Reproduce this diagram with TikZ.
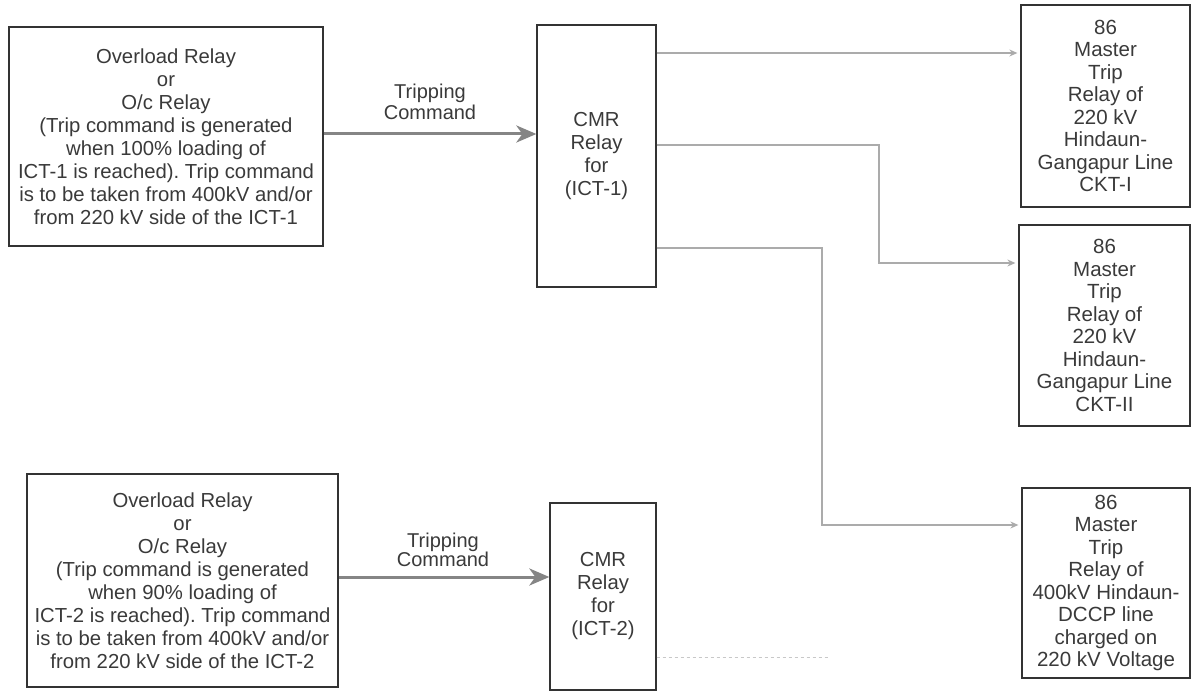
\documentclass[tikz,border=0pt]{standalone}
\usepackage{fontspec}
\setmainfont{Liberation Sans}
\usetikzlibrary{arrows.meta}
\definecolor{ink}{HTML}{333333}
\definecolor{txt}{HTML}{3A3A3A}
\definecolor{tripgray}{HTML}{858585}
\definecolor{faint}{HTML}{ABABAB}
\definecolor{veryfaint}{HTML}{C8C8C8}
\frenchspacing
\tikzset{
  box/.style={draw=ink, line width=1.3pt, rectangle, inner sep=0pt, align=center,
    text=txt, font=\fontsize{20.3}{23}\selectfont},
  rbox/.style={box, font=\fontsize{20.5}{22.5}\selectfont},
  tripline/.style={draw=tripgray, line width=3pt, -{Stealth[length=20pt,width=17pt,inset=6pt]}},
  outline/.style={draw=faint, line width=1.2pt, -{Stealth[length=8pt,width=7pt]}, shorten >=3pt},
  faintline/.style={draw=veryfaint, line width=1pt, dashed},
  lbl/.style={text=txt, align=center, inner sep=0pt}
}
\begin{document}
\begin{tikzpicture}[x=1pt,y=-1pt]
\useasboundingbox (0,0) rectangle (1192,692);
\fill[white] (0,0) rectangle (1192,692);

% left boxes
\node[box, minimum width=314pt, minimum height=219pt] (a1) at (166,136.5)
  {Overload Relay\\or\\O/c Relay\\(Trip command is generated\\when 100\% loading of\\ICT-1 is reached). Trip command\\is to be taken from 400kV and/or\\from 220 kV side of the ICT-1};
\node[box, minimum width=311pt, minimum height=213pt] (a2) at (182.5,580.5)
  {Overload Relay\\or\\O/c Relay\\(Trip command is generated\\when 90\% loading of\\ICT-2 is reached). Trip command\\is to be taken from 400kV and/or\\from 220 kV side of the ICT-2};

% CMR boxes
\node[box, minimum width=119pt, minimum height=262pt] (cmr1) at (596.5,156)
  {CMR\\Relay\\for\\(ICT-1)};
\node[box, minimum width=106pt, minimum height=187pt] (cmr2) at (603,596.5)
  {CMR\\Relay\\for\\(ICT-2)};

% right boxes
\node[rbox, minimum width=169pt, minimum height=202pt] (r1) at (1105.5,106)
  {86\\Master\\Trip\\Relay of\\220 kV\\Hindaun-\\Gangapur Line\\CKT-I};
\node[rbox, minimum width=171pt, minimum height=201pt] (r2) at (1104.5,325.5)
  {86\\Master\\Trip\\Relay of\\220 kV\\Hindaun-\\Gangapur Line\\CKT-II};
\node[rbox, minimum width=168pt, minimum height=190pt] (r3) at (1106,583)
  {86\\Master\\Trip\\Relay of\\400kV Hindaun-\\DCCP line\\charged on\\220 kV Voltage};

% labels
\node[lbl, font=\fontsize{20}{21}\selectfont] (lab1) at (430,101.5) {Tripping\\Command};
\node[lbl, font=\fontsize{20}{18}\selectfont] (lab2) at (443,550) {Tripping\\Command};

% tripping arrows
\coordinate (y1) at (0,134);
\draw[tripline] (a1.east |- y1) -- (cmr1.west |- y1);
\coordinate (y2) at (0,577);
\draw[tripline] (a2.east |- y2) -- (cmr2.west |- y2);

% outputs of CMR 1
\coordinate (k1) at (0,53);
\draw[outline] (cmr1.east |- k1) -- (r1.west |- k1);
\coordinate (b2) at (879,145);
\coordinate (c2) at (879,263);
\draw[outline] (cmr1.east |- b2) -- (b2) -- (c2) -- (r2.west |- c2);
\coordinate (b3) at (822,248);
\coordinate (c3) at (822,525);
\draw[outline] (cmr1.east |- b3) -- (b3) -- (c3) -- (r3.west |- c3);

% faded line from CMR 2
\coordinate (f1) at (830,657);
\draw[faintline] (cmr2.east |- f1) -- (f1);
\end{tikzpicture}
\end{document}
